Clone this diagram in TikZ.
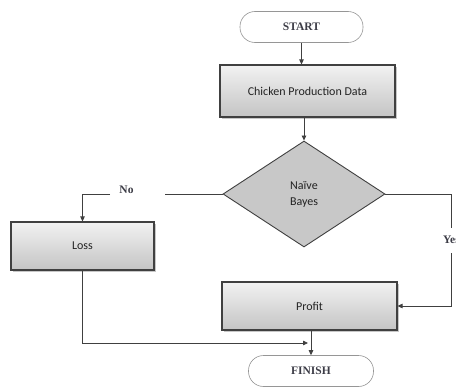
\documentclass[tikz,border=0pt]{standalone}
\usepackage{fontspec}
\setmainfont{Liberation Serif}
\newfontfamily\boxfont{Carlito}
\usetikzlibrary{arrows.meta,shapes.geometric,shadows}
\definecolor{linec}{RGB}{64,64,64}
\definecolor{txtc}{RGB}{35,35,35}
\definecolor{sertxt}{RGB}{60,60,70}
\definecolor{boxtop}{RGB}{242,242,242}
\definecolor{boxbot}{RGB}{196,196,196}
\definecolor{diafill}{RGB}{200,200,200}
\definecolor{termline}{RGB}{150,150,150}
\tikzset{
  procbox/.style={draw=linec, line width=1.1pt, top color=boxtop, bottom color=boxbot,
    minimum width=#1, text=txtc, font=\boxfont\fontsize{12}{14}\selectfont,
    drop shadow={shadow xshift=1.5pt, shadow yshift=-1.5pt, fill=gray!55, opacity=0.8}},
  terminal/.style={draw=termline, line width=0.6pt, fill=white, rounded corners=15pt,
    minimum width=#1, minimum height=31pt, text=sertxt, font=\bfseries\fontsize{11.5}{14}\selectfont},
  decision/.style={diamond, draw=linec, line width=0.9pt, fill=diafill, aspect=1.53,
    minimum width=162pt, minimum height=106pt, inner sep=0pt, align=center,
    text=txtc, font=\boxfont\fontsize{12}{16}\selectfont},
  conn/.style={draw=linec, line width=0.8pt},
  arr/.style={conn, -{Triangle[length=5pt,width=4.5pt]}},
  lbl/.style={text=sertxt, font=\bfseries\fontsize{11.5}{14}\selectfont, inner sep=0pt}
}
\begin{document}
\begin{tikzpicture}[x=1pt,y=-1pt]
\clip (0,0) rectangle (456,388);
\fill[white] (0,0) rectangle (456,388);

\node[terminal=123pt] (start) at (301.5,27) {START};
\node[procbox=175pt, minimum height=52pt] (data) at (307.5,91) {Chicken Production Data};
\node[decision] (nb) at (304,194) {Naïve\\Bayes};
\node[procbox=143pt, minimum height=48pt] (loss) at (82.5,246) {Loss};
\node[procbox=175pt, minimum height=48pt] (profit) at (309.5,306) {Profit};
\node[terminal=125pt] (finish) at (311,371) {FINISH};

\coordinate (nol) at (165,194);
\coordinate (nor) at (110,194);
\node[lbl] (no) at (126.5,190) {No};
\coordinate (yt) at (451,194);
\coordinate (yb) at (451,228);
\coordinate (yc) at (451,253);
\node[lbl, anchor=west] (yes) at (443,240) {Yes};
\coordinate (lj) at (308,343);

\draw[arr] (start.south) -- (start.south |- data.north);
\draw[arr] (data.south -| nb.north) -- (nb.north);
\draw[conn] (nb.west) -- (nol);
\draw[arr] (nor) -| (loss.north);
\draw[conn] (nb.east) -- (yt) -- (yb);
\draw[arr] (yc) |- (profit.east);
\draw[arr] (loss.south) |- (lj);
\draw[arr] (profit.south -| finish.north) -- (finish.north);
\end{tikzpicture}
\end{document}
